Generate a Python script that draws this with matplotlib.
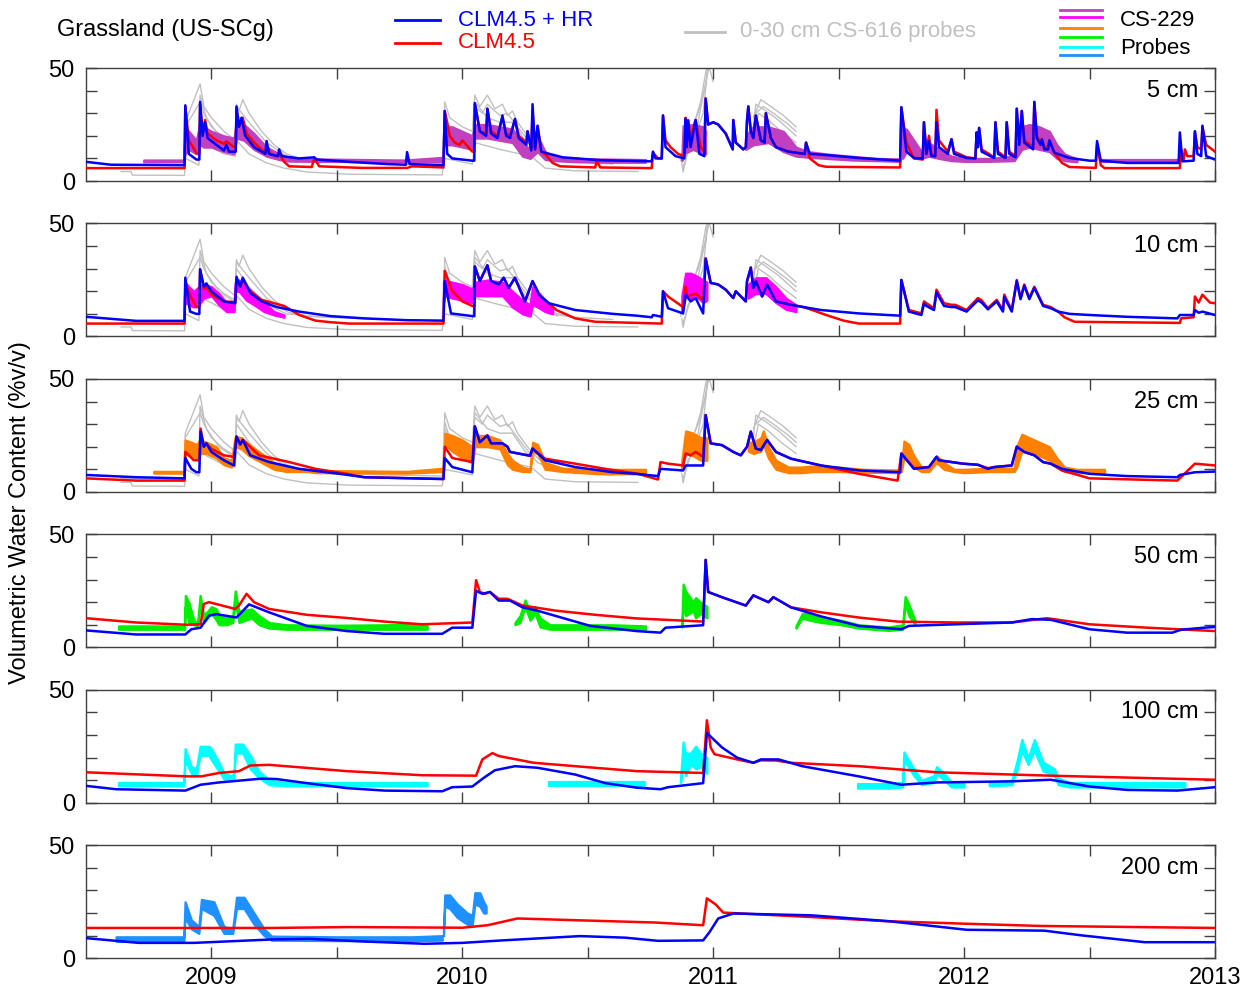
import numpy as np
import matplotlib.pyplot as plt
from matplotlib.lines import Line2D

plt.rcParams['font.family'] = ['Liberation Sans', 'DejaVu Sans']

nan = np.nan

# ---- model runs: (decimal year, volumetric water content %) ----
red_5cm = [(2008.50, 5.7), (2008.893, 5.7), (2008.896, 33), (2008.91, 18), (2008.94, 12.5), (2008.952, 12),
           (2008.955, 34), (2008.965, 22), (2008.975, 27), (2008.985, 21), (2009.02, 18), (2009.05, 16.5),
           (2009.06, 17.5), (2009.09, 15), (2009.097, 15), (2009.10, 32), (2009.11, 24), (2009.125, 28),
           (2009.14, 21), (2009.17, 17), (2009.20, 14), (2009.22, 12.5), (2009.225, 15), (2009.235, 12),
           (2009.26, 11), (2009.27, 12), (2009.29, 8.5), (2009.31, 6.5), (2009.40, 6.2), (2009.41, 10),
           (2009.43, 6.5), (2009.60, 5.8), (2009.78, 5.8), (2009.80, 6.5), (2009.925, 6), (2009.93, 31),
           (2009.95, 20), (2009.97, 17), (2009.99, 16), (2010.0, 18), (2010.04, 13), (2010.048, 13),
           (2010.05, 34), (2010.07, 22), (2010.095, 21), (2010.10, 32), (2010.115, 22), (2010.14, 20),
           (2010.16, 28), (2010.175, 21), (2010.19, 20), (2010.21, 27), (2010.225, 20), (2010.255, 17),
           (2010.26, 22), (2010.275, 14), (2010.28, 31), (2010.29, 14), (2010.30, 24), (2010.315, 13),
           (2010.33, 12), (2010.36, 8), (2010.39, 6.5), (2010.53, 6), (2010.535, 9), (2010.55, 6),
           (2010.755, 5.7), (2010.76, 12.5), (2010.78, 10), (2010.795, 10), (2010.80, 29), (2010.81, 18),
           (2010.83, 15), (2010.86, 12), (2010.885, 11), (2010.89, 28), (2010.895, 18), (2010.90, 27),
           (2010.91, 19), (2010.93, 27), (2010.95, 15), (2010.965, 13), (2010.97, 36.5), (2010.98, 25),
           (2011.00, 26), (2011.02, 25), (2011.05, 21), (2011.07, 16), (2011.078, 14), (2011.08, 27),
           (2011.09, 17), (2011.12, 14), (2011.13, 15), (2011.135, 27), (2011.14, 33), (2011.15, 22),
           (2011.16, 19), (2011.17, 29), (2011.19, 18), (2011.205, 17), (2011.21, 30), (2011.23, 19),
           (2011.25, 15), (2011.30, 13), (2011.365, 12), (2011.37, 17), (2011.385, 10), (2011.42, 7),
           (2011.45, 6.3), (2011.745, 6), (2011.75, 32.5), (2011.77, 17), (2011.80, 10), (2011.835, 9.5),
           (2011.84, 26), (2011.85, 13), (2011.86, 20), (2011.87, 12), (2011.885, 11), (2011.89, 31.5),
           (2011.90, 18), (2011.935, 13), (2011.95, 18.5), (2011.96, 13), (2012.01, 10.5), (2012.045, 10),
           (2012.05, 21.5), (2012.055, 15), (2012.06, 23.5), (2012.07, 14), (2012.12, 10.5), (2012.125, 26),
           (2012.135, 13), (2012.165, 10.5), (2012.17, 26), (2012.18, 13), (2012.205, 11), (2012.21, 32),
           (2012.22, 17), (2012.23, 31), (2012.24, 18), (2012.275, 15), (2012.28, 35), (2012.29, 20),
           (2012.305, 17), (2012.31, 18.5), (2012.32, 15), (2012.335, 15), (2012.34, 18), (2012.36, 12.5),
           (2012.39, 8), (2012.42, 6.2), (2012.525, 5.8), (2012.53, 16), (2012.545, 7), (2012.56, 5.7),
           (2012.86, 5.7), (2012.865, 14), (2012.875, 9), (2012.88, 14), (2012.89, 11), (2012.915, 11),
           (2012.92, 22), (2012.93, 15), (2012.945, 14), (2012.95, 24), (2012.965, 16), (2013.0, 13)]

blue_5cm = [(2008.50, 8.5), (2008.60, 7.2), (2008.893, 7), (2008.896, 33.5), (2008.91, 12), (2008.94, 9.5),
            (2008.952, 9.5), (2008.955, 35), (2008.965, 20), (2008.975, 26), (2008.985, 19), (2009.02, 16),
            (2009.05, 13.5), (2009.06, 16), (2009.07, 13), (2009.097, 13), (2009.10, 33), (2009.11, 24),
            (2009.12, 28), (2009.135, 20), (2009.17, 15), (2009.20, 13), (2009.215, 12), (2009.22, 17.7),
            (2009.23, 12), (2009.265, 11), (2009.27, 14), (2009.28, 11), (2009.35, 10), (2009.41, 10.5),
            (2009.42, 9.5), (2009.55, 8.5), (2009.70, 7.5), (2009.775, 7.2), (2009.78, 12.8), (2009.79, 7.5),
            (2009.925, 7), (2009.93, 31), (2009.94, 12), (2009.96, 10), (2010.0, 9.5), (2010.04, 9),
            (2010.048, 9), (2010.05, 34.5), (2010.07, 22), (2010.095, 20), (2010.10, 32), (2010.115, 21),
            (2010.14, 19), (2010.16, 29), (2010.175, 20), (2010.19, 19), (2010.21, 27.5), (2010.225, 19),
            (2010.255, 16), (2010.26, 22), (2010.275, 13.5), (2010.28, 34), (2010.29, 14), (2010.30, 24.5),
            (2010.315, 13), (2010.33, 12.5), (2010.40, 10.5), (2010.55, 9.2), (2010.755, 8.7), (2010.76, 13),
            (2010.77, 10), (2010.795, 10), (2010.80, 29), (2010.81, 15), (2010.85, 11), (2010.885, 10),
            (2010.89, 27.5), (2010.895, 15), (2010.90, 26.7), (2010.91, 15), (2010.93, 27), (2010.945, 12),
            (2010.965, 11), (2010.97, 36.5), (2010.98, 25), (2011.00, 26), (2011.02, 25), (2011.05, 21),
            (2011.07, 16), (2011.078, 14), (2011.08, 27), (2011.09, 17), (2011.12, 14), (2011.13, 15),
            (2011.135, 27), (2011.14, 33), (2011.15, 22), (2011.16, 19), (2011.17, 29), (2011.19, 18),
            (2011.205, 17), (2011.21, 30), (2011.23, 19), (2011.25, 15), (2011.30, 13), (2011.365, 12),
            (2011.37, 17), (2011.385, 12), (2011.43, 11.7), (2011.58, 10.2), (2011.745, 9), (2011.75, 32.7),
            (2011.77, 13), (2011.80, 10.2), (2011.835, 10), (2011.84, 26), (2011.85, 12), (2011.86, 17.7),
            (2011.87, 11), (2011.885, 11), (2011.89, 26), (2011.90, 15), (2011.935, 12), (2011.95, 18.5),
            (2011.96, 12), (2012.01, 10.2), (2012.045, 10), (2012.05, 21.5), (2012.055, 15), (2012.06, 23.5),
            (2012.07, 13), (2012.12, 10.2), (2012.125, 26), (2012.135, 12), (2012.165, 10.2), (2012.17, 26),
            (2012.18, 12), (2012.205, 10.5), (2012.21, 32), (2012.22, 16), (2012.23, 31), (2012.24, 17),
            (2012.275, 14), (2012.28, 35), (2012.29, 19), (2012.305, 16), (2012.31, 18.5), (2012.32, 14),
            (2012.335, 14), (2012.34, 18), (2012.36, 12.5), (2012.42, 10.2), (2012.50, 9), (2012.525, 9),
            (2012.53, 17.7), (2012.545, 9), (2012.65, 8), (2012.855, 8), (2012.86, 21.5), (2012.87, 8.7),
            (2012.915, 9), (2012.92, 22), (2012.93, 12), (2012.945, 11), (2012.95, 24.5), (2012.965, 11),
            (2013.0, 9.5)]

red_10cm = [(2008.50, 5.7), (2008.893, 5.7), (2008.896, 23.7), (2008.92, 17), (2008.94, 13), (2008.952, 13),
            (2008.955, 29.7), (2008.97, 21), (2008.98, 22), (2009.0, 18.5), (2009.05, 15.5), (2009.095, 15.2),
            (2009.10, 25), (2009.115, 22), (2009.125, 25), (2009.155, 20), (2009.20, 16.2), (2009.29, 13.5),
            (2009.35, 9.5), (2009.415, 7), (2009.475, 6.3), (2009.55, 5.7), (2009.925, 5.7), (2009.93, 29),
            (2009.96, 20), (2010.0, 15.5), (2010.04, 13.5), (2010.048, 13.5), (2010.05, 31), (2010.07, 24.5),
            (2010.10, 31.5), (2010.115, 24.5), (2010.145, 23), (2010.165, 26), (2010.185, 21.5), (2010.21, 26),
            (2010.25, 15.5), (2010.28, 24.5), (2010.30, 20), (2010.305, 18.5), (2010.345, 14.7), (2010.375, 11.7),
            (2010.45, 8), (2010.53, 6.5), (2010.795, 5.7), (2010.80, 20), (2010.82, 17.7), (2010.88, 13),
            (2010.89, 22), (2010.895, 17.7), (2010.93, 19), (2010.96, 16), (2010.97, 34.5), (2010.99, 23.7),
            (2011.02, 23), (2011.05, 20.7), (2011.08, 17), (2011.09, 20), (2011.13, 15.5), (2011.135, 24.5),
            (2011.15, 30.5), (2011.16, 21.5), (2011.17, 24.5), (2011.195, 17.7), (2011.215, 23), (2011.25, 15.5),
            (2011.31, 14), (2011.36, 13), (2011.40, 11.5), (2011.45, 9.5), (2011.52, 7), (2011.58, 5.7),
            (2011.745, 5.7), (2011.75, 25), (2011.78, 11.7), (2011.83, 10.2), (2011.84, 15.5), (2011.85, 14.7),
            (2011.88, 12.5), (2011.89, 20.7), (2011.92, 14.7), (2011.95, 14), (2011.965, 14), (2012.01, 11.7),
            (2012.055, 17), (2012.07, 16), (2012.095, 12.5), (2012.13, 16.2), (2012.155, 11.7), (2012.16, 18.5),
            (2012.19, 11.7), (2012.21, 25), (2012.225, 17), (2012.24, 23), (2012.26, 17), (2012.28, 22),
            (2012.315, 14), (2012.345, 13), (2012.375, 11), (2012.40, 8.5), (2012.44, 6.5), (2012.86, 6),
            (2012.865, 8), (2012.915, 8.5), (2012.92, 17.7), (2012.935, 15), (2012.95, 18.5), (2012.98, 15),
            (2013.0, 14.7)]

blue_10cm = [(2008.50, 8.7), (2008.70, 6.9), (2008.893, 6.9), (2008.896, 26), (2008.915, 11), (2008.94, 10),
             (2008.952, 10), (2008.955, 29.7), (2008.97, 22), (2008.98, 23.5), (2009.0, 20), (2009.05, 15.5),
             (2009.095, 14.7), (2009.10, 26.4), (2009.115, 22), (2009.125, 26), (2009.155, 19.2), (2009.20, 15.5),
             (2009.26, 13), (2009.35, 11), (2009.475, 9), (2009.61, 8), (2009.78, 7.2), (2009.925, 7),
             (2009.93, 24.5), (2009.955, 10.2), (2010.04, 9), (2010.048, 9), (2010.05, 31), (2010.07, 24.5),
             (2010.10, 31.5), (2010.115, 24.5), (2010.145, 23), (2010.165, 26), (2010.185, 21.5), (2010.21, 26),
             (2010.25, 15.5), (2010.28, 24.5), (2010.30, 20), (2010.305, 18.5), (2010.345, 14.7), (2010.45, 11.7),
             (2010.60, 10), (2010.695, 9.2), (2010.755, 8.5), (2010.76, 9.5), (2010.795, 8.7), (2010.80, 20),
             (2010.82, 12.5), (2010.88, 10.2), (2010.89, 18.5), (2010.91, 15.5), (2010.93, 17), (2010.96, 10.2),
             (2010.97, 34.5), (2010.99, 23.7), (2011.02, 23), (2011.05, 20.7), (2011.08, 17), (2011.09, 20),
             (2011.13, 15.5), (2011.135, 24.5), (2011.15, 30.5), (2011.16, 21.5), (2011.17, 24.5), (2011.195, 17.7),
             (2011.215, 23), (2011.25, 15.5), (2011.31, 14), (2011.36, 13), (2011.43, 11.7), (2011.58, 10.2),
             (2011.745, 9.2), (2011.75, 25), (2011.78, 11), (2011.83, 9.5), (2011.84, 14.5), (2011.85, 13.5),
             (2011.88, 11.7), (2011.89, 19.5), (2011.92, 13.5), (2011.95, 13), (2011.965, 13), (2012.01, 11),
             (2012.055, 16), (2012.07, 15), (2012.095, 12), (2012.13, 15.5), (2012.155, 11), (2012.16, 17.5),
             (2012.19, 11), (2012.21, 24.5), (2012.225, 16.5), (2012.24, 22.5), (2012.26, 16.5), (2012.28, 21.5),
             (2012.315, 13.5), (2012.345, 12.5), (2012.375, 11), (2012.42, 10), (2012.50, 9.5), (2012.65, 8.7),
             (2012.85, 8), (2012.86, 9.5), (2012.915, 9.5), (2012.92, 11.7), (2012.935, 10.5), (2012.95, 11),
             (2013.0, 9.5)]

red_25cm = [(2008.50, 6), (2008.70, 5), (2008.893, 5), (2008.896, 17.7), (2008.93, 14), (2008.952, 14),
            (2008.957, 28), (2008.97, 20), (2008.98, 21.5), (2009.0, 19), (2009.05, 16.2), (2009.09, 15.5),
            (2009.10, 24.5), (2009.115, 21), (2009.125, 23), (2009.19, 16.2), (2009.31, 13.2), (2009.415, 10.2),
            (2009.54, 8), (2009.61, 6.5), (2009.925, 5.7), (2009.93, 20), (2009.96, 15), (2010.04, 13.2),
            (2010.05, 29), (2010.07, 22), (2010.10, 25), (2010.115, 21.5), (2010.16, 21.5), (2010.18, 20),
            (2010.19, 17.7), (2010.27, 16), (2010.28, 19.2), (2010.33, 14.7), (2010.45, 12.5), (2010.57, 10.2),
            (2010.70, 8), (2010.78, 5.5), (2010.79, 13.2), (2010.82, 12.5), (2010.88, 11.7), (2010.89, 17),
            (2010.91, 16.2), (2010.93, 17.7), (2010.96, 15.5), (2010.97, 34), (2010.99, 21.5), (2011.035, 20.7),
            (2011.08, 17.7), (2011.11, 16.2), (2011.135, 20), (2011.15, 26.7), (2011.17, 19.2), (2011.19, 18.5),
            (2011.215, 23), (2011.25, 17.7), (2011.31, 14.7), (2011.43, 11.7), (2011.58, 8), (2011.735, 5),
            (2011.75, 17), (2011.80, 10.5), (2011.86, 11), (2011.89, 15.5), (2011.90, 14), (2011.995, 12.5),
            (2012.055, 12), (2012.095, 10.5), (2012.12, 11), (2012.19, 11.7), (2012.21, 20), (2012.24, 17.7),
            (2012.28, 16.2), (2012.315, 13.2), (2012.345, 12.5), (2012.39, 9.5), (2012.50, 6), (2012.85, 5),
            (2012.92, 12.5), (2013.0, 11.7)]

blue_25cm = [(2008.50, 7.5), (2008.70, 6.5), (2008.893, 6), (2008.896, 15), (2008.92, 10.2), (2008.94, 8.7),
             (2008.952, 8.7), (2008.957, 26.7), (2008.97, 20), (2008.98, 21.5), (2009.0, 17.7), (2009.05, 14),
             (2009.09, 11.7), (2009.10, 24.5), (2009.115, 21), (2009.125, 23), (2009.155, 16.2), (2009.23, 13.2),
             (2009.35, 10.2), (2009.51, 8), (2009.61, 6.5), (2009.925, 5.7), (2009.93, 15), (2009.96, 11),
             (2010.04, 8.7), (2010.05, 29), (2010.07, 22), (2010.10, 25), (2010.115, 21.5), (2010.16, 21.5),
             (2010.18, 20), (2010.19, 17.7), (2010.27, 16), (2010.28, 19.2), (2010.33, 14), (2010.45, 11),
             (2010.60, 8.7), (2010.695, 8), (2010.78, 7), (2010.79, 10.2), (2010.88, 9.5), (2010.89, 11.7),
             (2010.96, 11.7), (2010.97, 34), (2010.99, 21.5), (2011.035, 20.7), (2011.08, 17.7), (2011.11, 16.2),
             (2011.135, 20), (2011.15, 26.7), (2011.17, 19.2), (2011.19, 18.5), (2011.215, 23), (2011.25, 17.7),
             (2011.31, 14.7), (2011.43, 11.7), (2011.58, 9.5), (2011.745, 8.7), (2011.75, 17), (2011.80, 10.2),
             (2011.86, 11), (2011.89, 15.5), (2011.90, 14), (2011.995, 12.5), (2012.055, 12), (2012.095, 10.2),
             (2012.12, 11), (2012.19, 11.7), (2012.21, 20), (2012.24, 17.7), (2012.28, 16.2), (2012.315, 13.2),
             (2012.345, 12.5), (2012.39, 10.2), (2012.50, 8), (2012.65, 7), (2012.85, 6.5), (2012.86, 7.5),
             (2012.92, 8.7), (2013.0, 9)]

red_50cm = [(2008.50, 12.9), (2008.70, 11), (2008.90, 10), (2008.957, 10.2), (2008.97, 19.2), (2008.99, 20),
            (2009.095, 17), (2009.11, 18.5), (2009.14, 23.7), (2009.17, 20), (2009.23, 17), (2009.38, 14.4),
            (2009.54, 13), (2009.69, 11.4), (2009.84, 10.2), (2010.04, 11), (2010.055, 29.7), (2010.07, 24.5),
            (2010.09, 23.7), (2010.11, 24.5), (2010.145, 21.5), (2010.18, 21.5), (2010.24, 18.5), (2010.375, 16.2),
            (2010.53, 14.4), (2010.695, 12.8), (2010.96, 11.4), (2010.97, 38.7), (2010.98, 24.5), (2011.035, 22.2),
            (2011.13, 18.5), (2011.16, 23), (2011.22, 20), (2011.24, 22.2), (2011.31, 17.7), (2011.43, 15.5),
            (2011.58, 13.2), (2011.735, 11.4), (2011.965, 11), (2012.19, 11), (2012.33, 12.9), (2012.50, 10.2),
            (2012.73, 8.7), (2013.0, 7.2)]

blue_50cm = [(2008.50, 7.5), (2008.70, 5.7), (2008.896, 5.7), (2008.92, 8), (2008.957, 8.7), (2008.99, 14),
             (2009.02, 14.7), (2009.10, 13.2), (2009.15, 19), (2009.23, 15.5), (2009.38, 9.5), (2009.54, 7.2),
             (2009.69, 6), (2009.92, 6), (2009.96, 8.7), (2010.04, 8.7), (2010.055, 25), (2010.08, 23.7),
             (2010.11, 24.5), (2010.145, 20.7), (2010.19, 20.7), (2010.24, 17.7), (2010.30, 16.2), (2010.51, 9.5),
             (2010.695, 7.2), (2010.79, 6.5), (2010.81, 8.7), (2010.96, 9.8), (2010.97, 38.7), (2010.98, 24.5),
             (2011.035, 22.2), (2011.13, 18.5), (2011.16, 23), (2011.22, 20), (2011.24, 22.2), (2011.31, 17.7),
             (2011.43, 13.7), (2011.58, 9.5), (2011.75, 8), (2011.78, 9.5), (2011.965, 10.2), (2012.19, 11),
             (2012.27, 12.5), (2012.345, 12.2), (2012.50, 8), (2012.65, 6.5), (2012.83, 6.5), (2012.865, 7.8),
             (2012.955, 8.7), (2013.0, 9)]

red_100cm = [(2008.50, 13.5), (2008.90, 11.7), (2008.96, 11.7), (2009.03, 13.2), (2009.11, 14), (2009.155, 16.5),
             (2009.23, 16.8), (2009.54, 14), (2009.84, 12.2), (2010.055, 12), (2010.08, 19.2), (2010.12, 22),
             (2010.145, 20.7), (2010.285, 17.7), (2010.45, 16.2), (2010.695, 14), (2010.96, 13.2), (2010.975, 36.5),
             (2010.99, 24.5), (2011.005, 21.5), (2011.095, 19.2), (2011.16, 17.7), (2011.19, 18.8), (2011.25, 18.7),
             (2011.31, 17.7), (2011.58, 16.2), (2011.89, 13.5), (2012.345, 12), (2013.0, 10.2)]

blue_100cm = [(2008.50, 7.5), (2008.62, 6), (2008.896, 5.4), (2008.957, 8), (2009.03, 9), (2009.11, 9.8),
              (2009.20, 10.7), (2009.26, 10.5), (2009.38, 8.7), (2009.54, 6.5), (2009.69, 5.4), (2009.92, 5.1),
              (2009.96, 6.9), (2010.04, 7.2), (2010.085, 11), (2010.13, 14.4), (2010.21, 16.2), (2010.30, 15.5),
              (2010.45, 12.5), (2010.57, 8.7), (2010.695, 6.7), (2010.79, 6), (2010.82, 6.9), (2010.96, 8.7),
              (2010.975, 30.9), (2011.035, 24.5), (2011.095, 20), (2011.16, 17.7), (2011.19, 19.2), (2011.26, 19.2),
              (2011.355, 16.2), (2011.58, 11.7), (2011.75, 8), (2011.89, 9), (2012.19, 9.5), (2012.345, 10.2),
              (2012.50, 7.2), (2012.65, 5.7), (2012.85, 5.4), (2013.0, 6.9)]

red_200cm = [(2008.50, 13.4), (2009.24, 13.4), (2009.55, 13.8), (2010.0, 13.5), (2010.10, 14.6), (2010.22, 17.6),
             (2010.46, 16.8), (2010.77, 15.8), (2010.96, 14.6), (2010.975, 26.5), (2011.01, 23.8), (2011.04, 20.2),
             (2011.38, 18.3), (2011.69, 16.4), (2012.0, 15.3), (2012.30, 14.3), (2013.0, 13.4)]

blue_200cm = [(2008.50, 8.9), (2008.71, 6.8), (2008.93, 6.8), (2009.24, 8.3), (2009.39, 8.6), (2009.61, 7.4),
              (2009.85, 6.4), (2010.0, 6.8), (2010.16, 7.9), (2010.47, 9.8), (2010.65, 9.1), (2010.78, 7.7),
              (2010.96, 7.9), (2010.985, 11.5), (2011.02, 17.6), (2011.08, 19.8), (2011.39, 19), (2011.70, 16.4),
              (2012.01, 12.6), (2012.32, 12.2), (2012.47, 10.1), (2012.72, 7.1), (2013.0, 7.1)]

# ---- 0-30 cm CS-616 probes (nan breaks the record) ----
probe_a = [(2008.64, 4.2), (2008.68, 4.2), (2008.685, 2.6), (2008.893, 2.5), (2008.897, 10), (2008.95, 7),
           (2008.955, 24), (2008.98, 16), (2009.05, 12), (2009.095, 11), (2009.10, 18), (2009.15, 12),
           (2009.22, 8), (2009.29, 5.7), (2009.38, 4), (2009.55, 3), (2009.92, 2.7), (2009.93, 10),
           (2010.04, 7.5), (2010.05, 17), (2010.15, 14), (2010.27, 11), (2010.285, 10), (2010.33, 5.7),
           (2010.45, 4.5), (2010.70, 4.2), (nan, nan),
           (2010.875, 8), (2010.88, 4), (2010.90, 14), (2010.93, 20), (2010.96, 30), (2010.98, 52), (2011.0, 44),
           (nan, nan), (2011.16, 19), (2011.18, 30), (2011.22, 27), (2011.27, 22), (2011.33, 17)]
probe_b = [(2008.64, 6), (2008.89, 5.5), (2008.896, 22), (2008.95, 16), (2008.955, 38), (2008.98, 28),
           (2009.03, 20), (2009.095, 15), (2009.10, 30), (2009.15, 22), (2009.22, 14), (2009.30, 10),
           (2009.45, 8.5), (2009.70, 7.5), (2009.92, 7), (2009.93, 31), (2009.96, 20), (2010.04, 16),
           (2010.05, 35), (2010.10, 28), (2010.15, 26), (2010.20, 26), (2010.25, 18), (2010.28, 15),
           (2010.30, 18), (2010.35, 10), (2010.45, 8.5), (2010.60, 7.5), (nan, nan),
           (2010.87, 9), (2010.89, 18), (2010.92, 24), (2010.95, 35), (2010.97, 48), (2010.99, 56), (2011.0, 50),
           (nan, nan), (2011.16, 24), (2011.17, 34), (2011.21, 31), (2011.26, 27), (2011.33, 20)]
probe_c = [(2008.89, 6.5), (2008.896, 26), (2008.955, 43), (2008.97, 33), (2009.0, 28), (2009.05, 22),
           (2009.095, 18), (2009.10, 34), (2009.11, 31), (2009.125, 36), (2009.15, 30), (2009.20, 22),
           (2009.25, 16), (2009.30, 12), (2009.38, 9), (2009.45, 8.5), (nan, nan),
           (2009.925, 7), (2009.93, 35), (2009.95, 28), (2010.0, 24), (2010.04, 22), (2010.05, 38),
           (2010.07, 33), (2010.10, 38), (2010.13, 32), (2010.16, 34), (2010.18, 29), (2010.20, 31),
           (2010.22, 26), (2010.26, 20), (2010.30, 15), (2010.35, 11), (2010.42, 9), (nan, nan),
           (2010.88, 10), (2010.90, 20), (2010.94, 30), (2010.97, 42), (2010.985, 58), (2011.0, 55),
           (nan, nan), (2011.16, 28), (2011.19, 36), (2011.23, 33), (2011.28, 29), (2011.33, 24)]
probe_d = [(2008.896, 24), (2008.955, 35), (2008.97, 30), (2009.0, 24), (2009.05, 19), (2009.095, 16),
           (2009.10, 33), (2009.15, 26), (2009.22, 17), (2009.30, 11), (2009.38, 8.5), (nan, nan),
           (2009.93, 28), (2009.96, 22), (2010.04, 18), (2010.05, 33), (2010.08, 30), (2010.10, 34),
           (2010.15, 29), (2010.18, 30), (2010.22, 24), (2010.27, 17), (2010.30, 13), (2010.38, 9), (nan, nan),
           (2010.88, 6), (2010.91, 16), (2010.94, 26), (2010.96, 38), (2010.99, 54), (2011.0, 52),
           (nan, nan), (2011.17, 30), (2011.20, 33), (2011.24, 30), (2011.30, 25), (2011.33, 22)]
probes = [probe_a, probe_b, probe_c, probe_d]

# ---- CS-229 sensors: segments of (decimal year, low, high) ----
cs229_5cm = [
    [(2008.73, 8.5, 9.3), (2008.89, 8.5, 9.3), (2008.895, 12, 23.7), (2008.91, 14, 22), (2008.94, 12, 18),
     (2008.955, 16, 26), (2008.97, 15, 24), (2009.0, 15, 22), (2009.05, 13, 20), (2009.09, 12, 19),
     (2009.10, 19, 26), (2009.13, 18, 25), (2009.17, 14, 21), (2009.22, 11, 15), (2009.27, 9.5, 12),
     (2009.31, 8.8, 10.5), (2009.40, 8.7, 9.8), (2009.77, 8.6, 9.3), (2009.925, 8.5, 10.5)],
    [(2009.93, 16, 24), (2009.96, 16, 24), (2010.0, 15, 22), (2010.04, 14, 20), (2010.05, 19, 25),
     (2010.10, 19, 25), (2010.15, 18, 24), (2010.20, 17, 23), (2010.24, 11, 17), (2010.27, 10, 14),
     (2010.30, 13, 20), (2010.33, 9.5, 13), (2010.37, 9, 10.5), (2010.45, 8.5, 10), (2010.60, 8.3, 9.7),
     (2010.73, 8.3, 9.5)],
    [(2010.875, 9, 11), (2010.88, 12, 24.5), (2010.92, 14, 25), (2010.96, 12, 24), (2010.97, 12, 22)],
    [(2011.13, 14, 20), (2011.16, 16, 24), (2011.22, 17, 24), (2011.28, 13, 22), (2011.33, 11, 15),
     (2011.38, 10.5, 13), (2011.45, 10, 12), (2011.55, 9.3, 11), (2011.65, 9, 10), (2011.745, 8.7, 9.8)],
    [(2011.755, 10, 23), (2011.77, 13, 23), (2011.80, 11, 18), (2011.83, 10, 13), (2011.86, 11, 17),
     (2011.90, 10, 14), (2011.95, 9, 11), (2012.0, 8.7, 10), (2012.10, 8.7, 10), (2012.20, 9, 11),
     (2012.23, 14, 24), (2012.26, 15, 25), (2012.30, 14, 24), (2012.34, 13, 22), (2012.37, 10, 16),
     (2012.40, 9, 12), (2012.45, 8.5, 9.8)],
    [(2012.55, 8.3, 9.3), (2012.86, 8.3, 9.3)],
]

cs229_10cm = [
    [(2008.895, 15, 24), (2008.91, 14, 22), (2008.93, 13, 20), (2008.95, 14, 22), (2008.97, 17, 23),
     (2009.0, 18, 22), (2009.03, 14, 19), (2009.06, 11, 15), (2009.09, 11, 14), (2009.095, 20, 24),
     (2009.11, 20, 25), (2009.14, 16, 22), (2009.17, 14, 19), (2009.21, 11, 15), (2009.25, 9.5, 11),
     (2009.29, 8.5, 9.5)],
    [(2009.925, 15, 24), (2009.93, 18, 25), (2009.96, 17, 24), (2010.0, 16, 23), (2010.04, 15, 21),
     (2010.05, 18, 24), (2010.10, 18, 25), (2010.16, 18, 24), (2010.20, 13, 20), (2010.24, 10, 16),
     (2010.27, 9, 14), (2010.28, 14, 22), (2010.30, 13, 20), (2010.33, 11, 16), (2010.36, 10, 12)],
    [(2010.875, 11, 18), (2010.89, 18, 28), (2010.91, 17, 28), (2010.93, 18, 27), (2010.96, 15, 25),
     (2010.975, 16, 24)],
    [(2011.14, 17, 23), (2011.17, 19, 26), (2011.21, 19, 26), (2011.25, 15, 22), (2011.29, 12, 17),
     (2011.33, 11, 14)],
]

cs229_25cm = [
    [(2008.77, 8.3, 9.1), (2008.89, 8.3, 9.1), (2008.895, 17, 23), (2008.92, 16, 22), (2008.94, 15, 21),
     (2008.955, 17, 23), (2008.98, 17, 22), (2009.02, 15, 20), (2009.05, 12, 15), (2009.08, 11, 14),
     (2009.095, 20, 24.5), (2009.12, 19, 24), (2009.15, 16, 21), (2009.20, 13, 17), (2009.25, 10, 13),
     (2009.30, 9, 11), (2009.38, 9, 10), (2009.42, 8.5, 9.5), (2009.78, 8.3, 9.1), (2009.925, 9, 10.5)],
    [(2009.93, 21, 26), (2009.96, 18, 25), (2010.0, 15, 23), (2010.04, 13, 20), (2010.05, 20, 25),
     (2010.10, 20, 25), (2010.15, 19, 23), (2010.18, 12, 17), (2010.20, 10, 14), (2010.24, 9, 11),
     (2010.27, 9, 10), (2010.28, 18, 22), (2010.30, 17, 21), (2010.33, 10, 13), (2010.40, 9, 10.5),
     (2010.55, 8, 10), (2010.73, 8, 10)],
    [(2010.875, 11, 14), (2010.89, 17, 27), (2010.92, 16, 26), (2010.95, 14, 24), (2010.975, 14, 24)],
    [(2011.14, 18, 22), (2011.16, 17, 22), (2011.19, 18, 24), (2011.20, 21, 27), (2011.22, 15, 20),
     (2011.25, 10, 14), (2011.30, 8.5, 11), (2011.35, 8.5, 11), (2011.40, 9, 11.5), (2011.50, 9, 11),
     (2011.60, 8.7, 10), (2011.745, 8.5, 9.7)],
    [(2011.75, 9, 10), (2011.76, 15, 22.5), (2011.78, 14, 21), (2011.80, 11, 16), (2011.83, 9, 11),
     (2011.86, 9, 11), (2011.89, 13, 16), (2011.92, 10, 13), (2011.96, 9, 10), (2012.0, 8.5, 10),
     (2012.10, 9, 10.5), (2012.20, 9, 10.5), (2012.21, 11, 20), (2012.23, 18, 25.5), (2012.26, 17, 24),
     (2012.30, 16, 22), (2012.34, 14, 20), (2012.37, 11, 15), (2012.40, 9, 11), (2012.45, 8.5, 10),
     (2012.56, 8.5, 10)],
]

probes_50cm = [
    [(2008.63, 8, 9.5), (2008.80, 8, 9.5), (2008.893, 8, 9.5), (2008.896, 18, 23), (2008.91, 11, 20),
     (2008.93, 10, 12), (2008.945, 9.5, 11), (2008.955, 18, 23), (2008.97, 11, 14), (2009.0, 15, 18),
     (2009.02, 12, 17), (2009.03, 10, 14), (2009.06, 10, 13), (2009.085, 11, 14), (2009.095, 20, 25),
     (2009.11, 11, 16), (2009.16, 13, 17), (2009.19, 10, 14), (2009.23, 8.5, 11), (2009.30, 8, 10),
     (2009.50, 8, 9.8), (2009.70, 8, 10), (2009.86, 8, 10.5)],
    [(2010.21, 10, 11), (2010.23, 11, 14), (2010.25, 18, 21), (2010.27, 12, 16), (2010.29, 15, 18),
     (2010.31, 9, 13), (2010.35, 8, 10), (2010.40, 8, 10), (2010.60, 8, 10), (2010.73, 8, 9.5)],
    [(2010.875, 9, 11), (2010.88, 18, 28), (2010.89, 14, 25), (2010.92, 16, 20), (2010.93, 13, 22),
     (2010.95, 15, 20), (2010.975, 13, 18)],
    [(2011.33, 8.5, 9.5), (2011.355, 13, 15), (2011.385, 12, 15), (2011.43, 11, 13.5), (2011.51, 10, 12),
     (2011.58, 8.5, 10), (2011.70, 7.5, 9), (2011.755, 8, 10), (2011.765, 19, 22.5), (2011.78, 14, 19),
     (2011.805, 10, 12)],
]

probes_100cm = [
    [(2008.63, 7.5, 9), (2008.89, 7.5, 9), (2008.895, 19, 24), (2008.92, 13, 16), (2008.94, 12, 15),
     (2008.955, 21, 25), (2008.99, 21, 25), (2009.0, 19, 24), (2009.03, 14, 18), (2009.05, 10.5, 13),
     (2009.08, 10.5, 12), (2009.09, 10.5, 13), (2009.095, 22, 26), (2009.125, 22, 26), (2009.155, 15, 21),
     (2009.19, 11, 14), (2009.23, 8, 10), (2009.30, 7.5, 9), (2009.50, 7.5, 9), (2009.86, 7.5, 9)],
    [(2010.345, 7.5, 9), (2010.50, 7.5, 9), (2010.73, 7.5, 9)],
    [(2010.87, 9, 11), (2010.88, 17, 27), (2010.89, 12, 22), (2010.91, 17, 22), (2010.93, 15, 25),
     (2010.95, 16, 22), (2010.975, 13, 20)],
    [(2011.575, 6.5, 8.5), (2011.70, 6.5, 8.5), (2011.755, 7, 9), (2011.76, 19, 22.5), (2011.80, 12, 15),
     (2011.83, 8, 10), (2011.88, 9, 12), (2011.89, 13, 16), (2011.92, 10, 13), (2011.95, 7, 9),
     (2012.0, 7, 9)],
    [(2012.10, 7.5, 9), (2012.19, 8, 10), (2012.21, 14, 18), (2012.23, 23, 28), (2012.255, 17, 20),
     (2012.28, 23, 28), (2012.315, 14, 18), (2012.36, 12, 15), (2012.375, 8, 11), (2012.42, 7, 9),
     (2012.60, 7, 9), (2012.88, 7, 9)],
]

probes_200cm = [
    [(2008.62, 7.5, 9.5), (2008.89, 7.5, 9.5), (2008.895, 18, 25), (2008.92, 13, 17), (2008.95, 11, 14),
     (2008.96, 22, 26), (2009.01, 19, 25), (2009.05, 11, 14), (2009.085, 11, 13), (2009.10, 22, 27),
     (2009.13, 22, 27), (2009.17, 15, 20), (2009.21, 10, 13), (2009.24, 8, 9.8), (2009.50, 7.8, 9.5),
     (2009.80, 7.8, 9.5), (2009.92, 8, 10)],
    [(2009.925, 10, 12), (2009.93, 23, 28), (2009.95, 22, 28), (2009.98, 18, 24), (2010.02, 15, 20),
     (2010.04, 15, 19), (2010.05, 24, 29), (2010.07, 23, 29), (2010.085, 20, 25), (2010.095, 20, 23)],
]

depths = ['5 cm', '10 cm', '25 cm', '50 cm', '100 cm', '200 cm']
model_hr = [blue_5cm, blue_10cm, blue_25cm, blue_50cm, blue_100cm, blue_200cm]
model_base = [red_5cm, red_10cm, red_25cm, red_50cm, red_100cm, red_200cm]
observed = [cs229_5cm, cs229_10cm, cs229_25cm, probes_50cm, probes_100cm, probes_200cm]
obs_colors = ['#C040C0', '#FF00FF', '#FF8000', '#00F000', '#00FFFF', '#1E90FF']
year_ticks = [2009, 2010, 2011, 2012, 2013]

frame = '#404040'
fig = plt.figure(figsize=(12.51, 9.99), dpi=100)

for i in range(6):
    ax = fig.add_axes([0.0687, 0.8188 - i * 0.1556, 0.9025, 0.1131])

    if i < 3:
        for p in probes:
            px, py = zip(*p)
            ax.plot(px, py, color='#C0C0C0', lw=1.0, zorder=1)

    for seg in observed[i]:
        sx, lo, hi = zip(*seg)
        ax.fill_between(sx, lo, hi, color=obs_colors[i], lw=1.6, zorder=2)

    bx, by = zip(*model_base[i])
    ax.plot(bx, by, color='#FF0000', lw=1.8, zorder=3)
    hx, hy = zip(*model_hr[i])
    ax.plot(hx, hy, color='#0000FF', lw=1.8, zorder=4)

    ax.set_xlim(2008.5, 2013)
    ax.set_ylim(0, 50)
    ax.set_yticks([0, 50])
    ax.set_yticks([10, 20, 30, 40], minor=True)
    ax.set_xticks(year_ticks)
    ax.set_xticks([2009.5, 2010.5, 2011.5, 2012.5], minor=True)
    ax.tick_params(which='both', direction='in', length=8, width=1, color=frame,
                   top=True, right=True, labelsize=17, pad=6)
    ax.tick_params(axis='y', pad=8)
    if i < 5:
        ax.set_xticklabels([])
    else:
        ax.set_xticklabels([str(y) for y in year_ticks])
    for s in ax.spines.values():
        s.set_color(frame)
        s.set_linewidth(1.0)
    ax.text(0.985, 40, depths[i], transform=ax.get_yaxis_transform(),
            ha='right', va='center', fontsize=17)

fig.text(0.016, 0.487, 'Volumetric Water Content (%v/v)', rotation=90,
         ha='center', va='center', fontsize=17)
fig.text(57 / 1251, 1 - 30 / 999, 'Grassland (US-SCg)', va='center', fontsize=17)


def key_line(x0, x1, y, color):
    fig.add_artist(Line2D([x0 / 1251, x1 / 1251], [1 - y / 999, 1 - y / 999],
                          color=color, lw=2, transform=fig.transFigure))


key_line(395, 440, 20, '#0000FF')
key_line(395, 440, 43, '#FF0000')
fig.text(458 / 1251, 1 - 20 / 999, 'CLM4.5 + HR', color='#0000FF', va='center', fontsize=16)
fig.text(458 / 1251, 1 - 43 / 999, 'CLM4.5', color='#FF0000', va='center', fontsize=16)
key_line(685, 725, 32, '#C0C0C0')
fig.text(740 / 1251, 1 - 32 / 999, '0-30 cm CS-616 probes', color='#C0C0C0', va='center', fontsize=16)
for yk, c in zip([10, 17, 28, 37, 47, 55], obs_colors):
    key_line(1060, 1102, yk, c)
fig.text(1120 / 1251, 1 - 21 / 999, 'CS-229', va='center', fontsize=16)
fig.text(1120 / 1251, 1 - 49 / 999, 'Probes', va='center', fontsize=16)

fig.savefig('out.png', dpi=100)
